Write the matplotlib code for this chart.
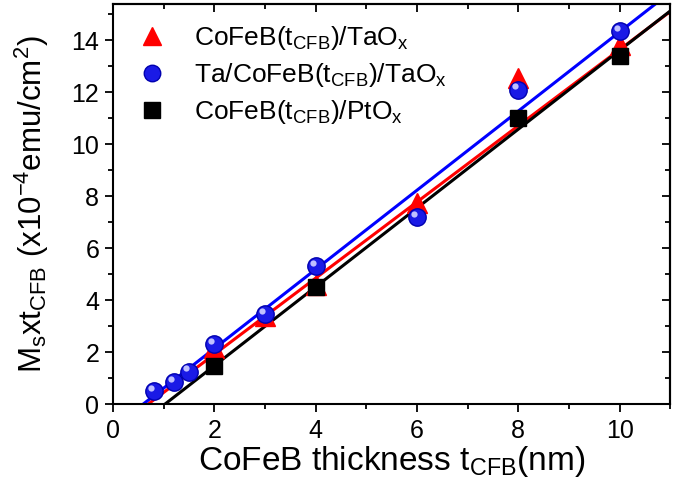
import matplotlib
matplotlib.use("Agg")
import matplotlib.pyplot as plt
import numpy as np
from matplotlib.ticker import MultipleLocator

plt.rcParams['font.family'] = ['Liberation Sans', 'DejaVu Sans']
plt.rcParams['mathtext.fontset'] = 'custom'
plt.rcParams['mathtext.rm'] = 'Liberation Sans'
plt.rcParams['mathtext.default'] = 'regular'

# data
x_red = [2, 3, 4, 6, 8, 10]
y_red = [2.15, 3.4, 4.6, 7.75, 12.55, 13.8]
x_blue = [0.8, 1.2, 1.5, 2, 3, 4, 6, 8, 10]
y_blue = [0.5, 0.85, 1.25, 2.3, 3.45, 5.3, 7.2, 12.1, 14.35]
x_black = [2, 4, 8, 10]
y_black = [1.45, 4.5, 11.0, 13.4]

# linear fits (slope, intercept)
fit_red = (1.465, -1.01)
fit_blue = (1.522, -0.90)
fit_black = (1.516, -1.55)

labels = [r'CoFeB(t$_{CFB}$)/TaO$_{x}$',
          r'Ta/CoFeB(t$_{CFB}$)/TaO$_{x}$',
          r'CoFeB(t$_{CFB}$)/PtO$_{x}$']

fig = plt.figure(figsize=(6.86, 4.84), dpi=100)
ax = fig.add_axes([0.165, 0.165, 0.812, 0.827])

xx = np.linspace(0, 11, 200)
for (m, b), c in [(fit_red, 'red'), (fit_black, 'black'), (fit_blue, 'blue')]:
    ax.plot(xx, m * xx + b, color=c, lw=2.2, zorder=2)

h1, = ax.plot(x_red, y_red, '^', color='red', ms=14, mec='red', ls='none', zorder=3)
h3, = ax.plot(x_black, y_black, 's', color='black', ms=12, ls='none', zorder=3)
h2, = ax.plot(x_blue, y_blue, 'o', color='#1a1ae6', mec='#0000b0', ms=12.5, ls='none', zorder=4)
# highlight on spheres
ax.plot(np.array(x_blue) - 0.06, np.array(y_blue) + 0.13, 'o', color='#c0c0ff',
        mec='none', ms=4.5, ls='none', zorder=5)

ax.set_xlim(0, 11)
ax.set_ylim(0, 15.4)
ax.xaxis.set_major_locator(MultipleLocator(2))
ax.xaxis.set_minor_locator(MultipleLocator(1))
ax.yaxis.set_major_locator(MultipleLocator(2))
ax.yaxis.set_minor_locator(MultipleLocator(1))
ax.tick_params(which='both', direction='out', width=1.3, labelsize=18, top=False, right=False)
ax.tick_params(which='major', length=6)
ax.tick_params(which='minor', length=3.5)
ax.tick_params(axis='x', which='major', pad=5)
ax.tick_params(axis='y', which='major', pad=4)
for s in ax.spines.values():
    s.set_linewidth(1.5)

sec_x = ax.secondary_xaxis('top')
sec_x.xaxis.set_major_locator(MultipleLocator(2))
sec_x.xaxis.set_minor_locator(MultipleLocator(1))
sec_x.tick_params(which='both', direction='in', width=1.3, labeltop=False)
sec_x.tick_params(which='major', length=6)
sec_x.tick_params(which='minor', length=3.5)
sec_x.spines['top'].set_linewidth(1.5)
sec_y = ax.secondary_yaxis('right')
sec_y.yaxis.set_major_locator(MultipleLocator(2))
sec_y.yaxis.set_minor_locator(MultipleLocator(1))
sec_y.tick_params(which='both', direction='in', width=1.3, labelright=False)
sec_y.tick_params(which='major', length=6)
sec_y.tick_params(which='minor', length=3.5)
sec_y.spines['right'].set_linewidth(1.5)

ax.set_xlabel(r'CoFeB thickness t$_{CFB}$(nm)', fontsize=24)
ax.xaxis.set_label_coords(0.5, -0.1)
ax.set_ylabel(r'M$_{s}$xt$_{CFB}$ (x10$^{-4}$emu/cm$^{2}$)', fontsize=22.5)
ax.yaxis.set_label_coords(-0.112, 0.5)

ax.legend([h1, h2, h3], labels, loc='upper left', frameon=False, fontsize=19,
          bbox_to_anchor=(-0.011, 1.008), handletextpad=0.8, labelspacing=0.33,
          markerscale=0.95, handlelength=1.6)

fig.savefig('out.png', dpi=100)
